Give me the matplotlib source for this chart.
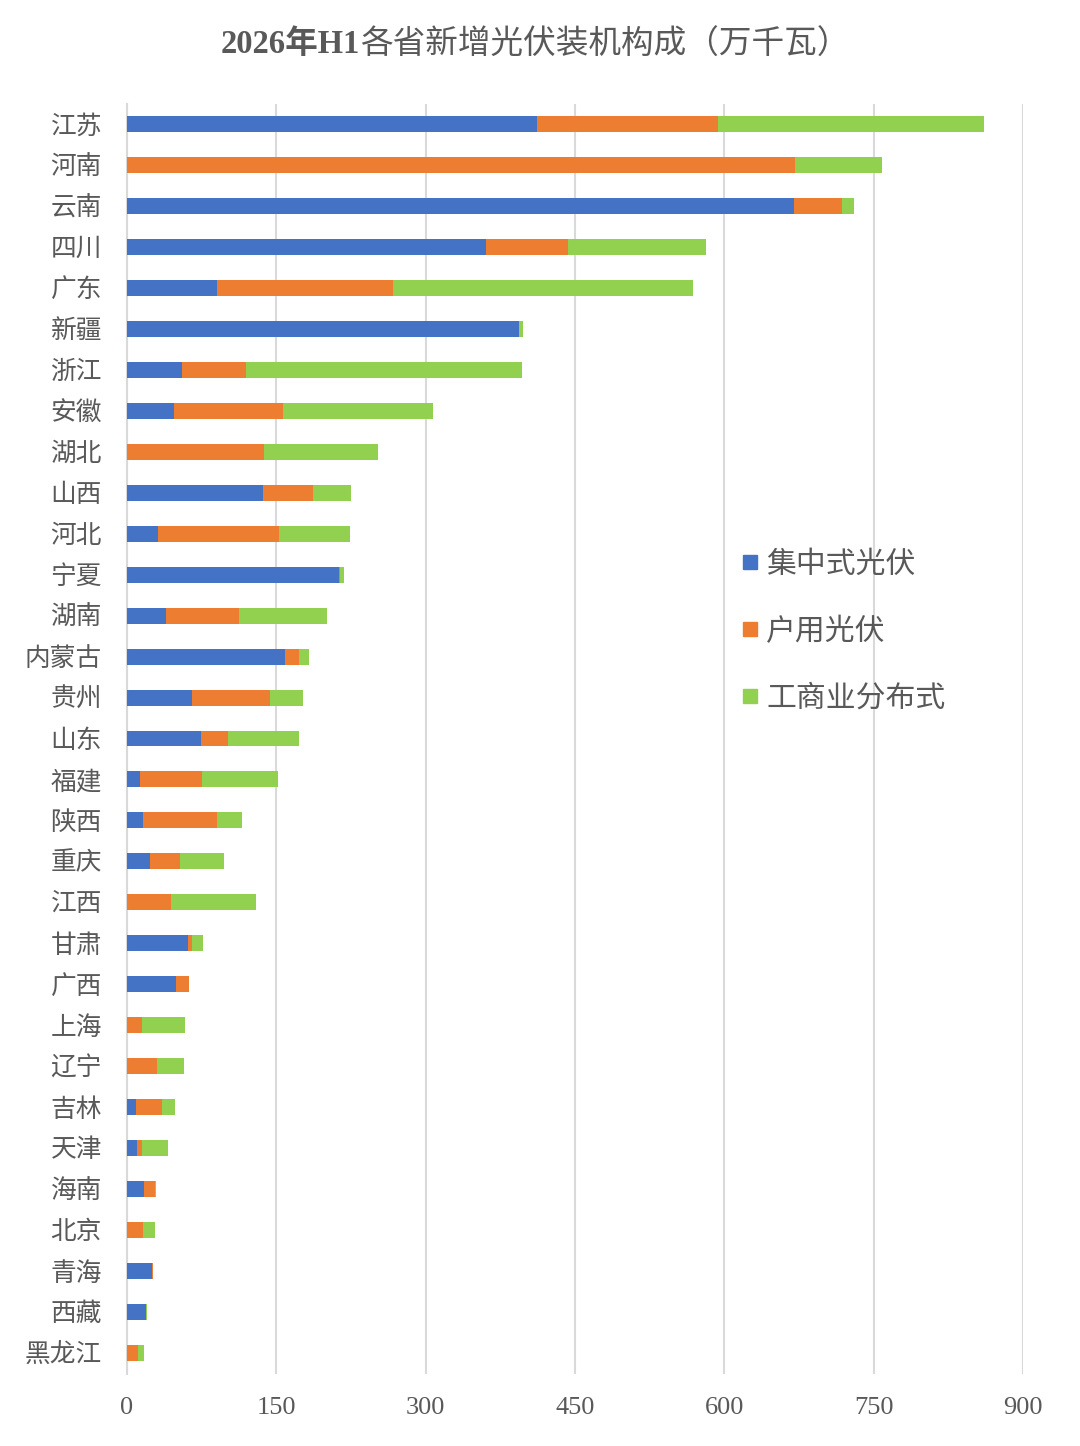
import matplotlib
matplotlib.use("Agg")
import matplotlib.pyplot as plt
from matplotlib.lines import Line2D
import numpy as np

plt.rcParams['font.family'] = ['Liberation Serif', 'Noto Sans CJK SC', 'DejaVu Sans']

provinces = ["江苏", "河南", "云南", "四川", "广东", "新疆", "浙江", "安徽", "湖北", "山西",
             "河北", "宁夏", "湖南", "内蒙古", "贵州", "山东", "福建", "陕西", "重庆", "江西",
             "甘肃", "广西", "上海", "辽宁", "吉林", "天津", "海南", "北京", "青海", "西藏", "黑龙江"]
centralized = [412, 0, 670, 361, 90, 394, 55, 47, 0, 137,
               31, 213, 39, 159, 65, 74, 13, 16, 23, 0,
               61, 49, 0, 0, 9, 10, 17, 0, 25, 19, 0]
household = [182, 671, 48, 82, 177, 0, 65, 110, 138, 50,
             122, 1, 74, 14, 79, 27, 62, 74, 30, 44,
             4, 13, 15, 30, 26, 5, 11, 16, 1, 0, 11]
commercial = [267, 87, 12, 139, 302, 4, 277, 150, 114, 38,
              71, 4, 88, 10, 33, 72, 77, 26, 44, 86,
              11, 0, 43, 27, 13, 26, 1, 12, 0.5, 1, 6]
series_names = ["集中式光伏", "户用光伏", "工商业分布式"]
colors = ["#4472C4", "#ED7D31", "#92D050"]
xticks = [0, 150, 300, 450, 600, 750, 900]
title_bold = "2026年H1"
title_rest = "各省新增光伏装机构成（万千瓦）"

text_color = "#595959"
grid_color = "#D9D9D9"

fig = plt.figure(figsize=(10.8, 14.46), dpi=100)
ax = fig.add_axes([127/1080, 1-1373.5/1446, (1023-127)/1080, (1373.5-103.5)/1446])

y = np.arange(len(provinces))
c = np.array(centralized, dtype=float)
h = np.array(household, dtype=float)
m = np.array(commercial, dtype=float)
bh = 0.39
ax.barh(y, c, height=bh, color=colors[0], zorder=3)
ax.barh(y, h, left=c, height=bh, color=colors[1], zorder=3)
ax.barh(y, m, left=c + h, height=bh, color=colors[2], zorder=3)

ax.set_ylim(len(provinces) - 0.5, -0.5)
ax.set_xlim(0, 900)
ax.set_xticks(xticks)
ax.set_xticklabels([str(t) for t in xticks])
ax.set_yticks(y)
ax.set_yticklabels(provinces)

ax.xaxis.grid(True, color=grid_color, linewidth=1.5, zorder=0)
ax.yaxis.grid(False)
for s in ["top", "right", "bottom"]:
    ax.spines[s].set_visible(False)
ax.spines["left"].set_color(grid_color)
ax.spines["left"].set_linewidth(1.5)

ax.tick_params(axis="y", length=0, pad=18, labelsize=18.5, labelcolor=text_color)
ax.tick_params(axis="x", length=0, pad=17, labelsize=19, labelcolor=text_color)

# Title: bold prefix + regular remainder, centred together
renderer = fig.canvas.get_renderer()
t1 = fig.text(0, 1-45/1446, title_bold, ha="left", va="center", fontsize=23.5,
              fontweight="bold", color=text_color)
t2 = fig.text(0, 1-45/1446, title_rest, ha="left", va="center", fontsize=23.5,
              color=text_color)
w1 = t1.get_window_extent(renderer).width
w2 = t2.get_window_extent(renderer).width
total = w1 + w2
start_px = 535 - total / 2
t1.set_x(start_px / 1080)
t2.set_x((start_px + w1) / 1080)

handles = [Line2D([0], [0], marker="s", linestyle="none", markersize=10,
                  markerfacecolor=col, markeredgecolor=col) for col in colors]
leg = fig.legend(handles, series_names, loc="upper left",
                 bbox_to_anchor=(741/1080, 1-551/1446), frameon=False,
                 fontsize=21.5, labelspacing=1.3, handlelength=0.6,
                 handletextpad=0.25, borderpad=0, borderaxespad=0)
for t in leg.get_texts():
    t.set_color(text_color)

fig.savefig("out.png", dpi=100, facecolor="white")
